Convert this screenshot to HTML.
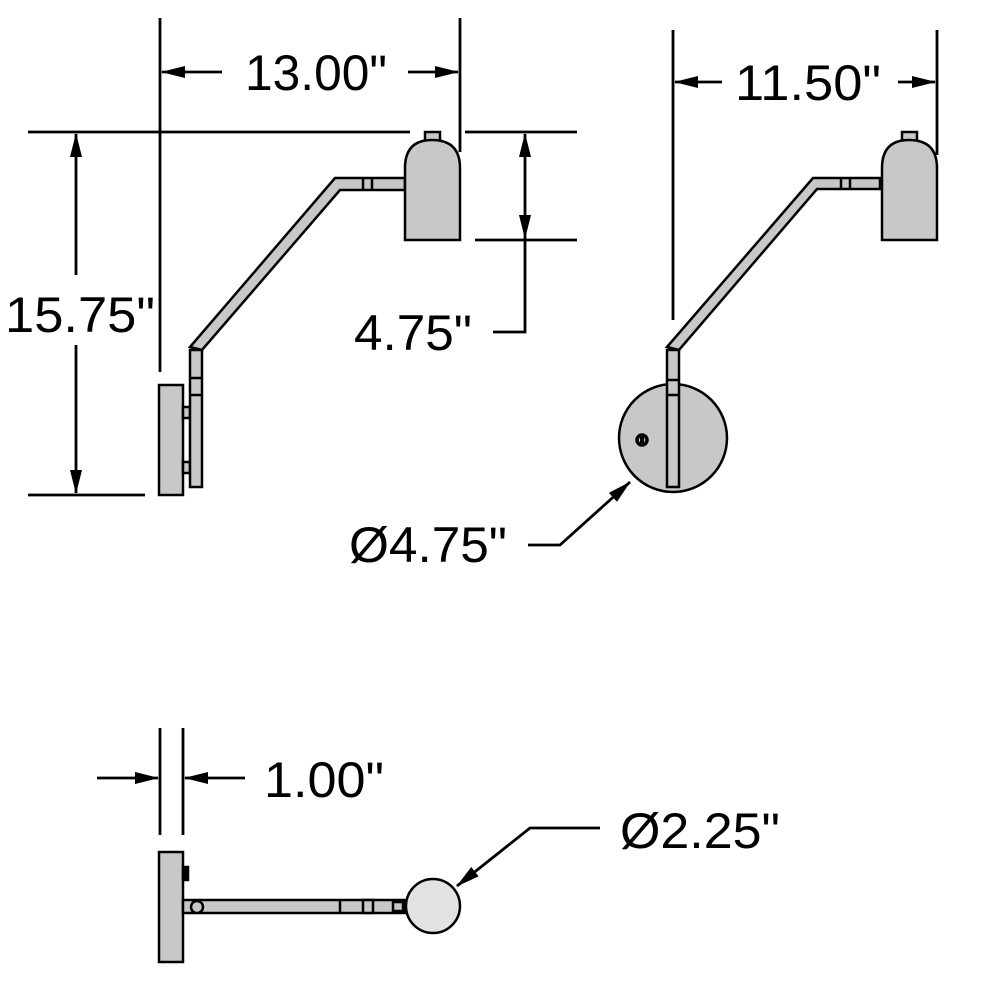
<!DOCTYPE html>
<html><head><style>html,body{margin:0;padding:0;background:#fff}svg{display:block}</style></head>
<body>
<svg width="1000" height="1000" viewBox="0 0 1000 1000" xmlns="http://www.w3.org/2000/svg" font-family="Liberation Sans, Arial, sans-serif" font-size="50">
<defs>
<marker id="a" markerWidth="24" markerHeight="14" refX="23" refY="7" orient="auto" markerUnits="userSpaceOnUse"><path d="M0,1 L24,7 L0,13 Z" fill="#000"/></marker>
</defs>
<g stroke="#000" stroke-width="2.8" fill="none">
<line x1="160" y1="18" x2="160" y2="372"/>
<line x1="460" y1="18" x2="460" y2="152"/>
<line x1="222" y1="72" x2="162" y2="72" marker-end="url(#a)"/>
<line x1="408" y1="72" x2="458" y2="72" marker-end="url(#a)"/>
<line x1="28" y1="132" x2="410" y2="132"/>
<line x1="465" y1="132" x2="577" y2="132"/>
<line x1="28" y1="495" x2="145" y2="495"/>
<line x1="76" y1="275" x2="76" y2="134" marker-end="url(#a)"/>
<line x1="76" y1="345" x2="76" y2="493" marker-end="url(#a)"/>
<line x1="475" y1="240" x2="577" y2="240"/>
<line x1="525" y1="190" x2="525" y2="134" marker-end="url(#a)"/>
<line x1="525" y1="190" x2="525" y2="238" marker-end="url(#a)"/>
<polyline points="525,238 525,332 493,332"/>
<line x1="673" y1="30" x2="673" y2="320"/>
<line x1="937" y1="30" x2="937" y2="155"/>
<line x1="722" y1="82" x2="675" y2="82" marker-end="url(#a)"/>
<line x1="898" y1="82" x2="935" y2="82" marker-end="url(#a)"/>
<polyline points="528,545 560,545 630,482" marker-end="url(#a)"/>
<line x1="160" y1="728" x2="160" y2="835"/>
<line x1="183" y1="728" x2="183" y2="835"/>
<line x1="97" y1="778" x2="158" y2="778" marker-end="url(#a)"/>
<line x1="245" y1="778" x2="185" y2="778" marker-end="url(#a)"/>
<polyline points="600,828 530,828 457,886" marker-end="url(#a)"/>
</g>

<g stroke="#000" stroke-width="2.5" fill="#c8c8c8" stroke-linejoin="miter">
<rect x="159" y="385" width="24" height="110"/>
<rect x="183" y="407" width="7" height="11"/>
<rect x="183" y="462" width="7" height="11"/>
<rect x="190" y="350" width="12" height="137"/>
<line x1="190" y1="378" x2="202" y2="378"/><line x1="190" y1="395" x2="202" y2="395"/>
<polygon points="190,347 335,178 405,178 405,190 340,190 202,350"/>
<line x1="363" y1="178" x2="363" y2="190"/><line x1="372" y1="178" x2="372" y2="190"/>
<rect x="425" y="132" width="15" height="10"/>
<path d="M405,240 L405,168 Q405,140 432,140 Q460,140 460,168 L460,240 Z"/>
<circle cx="673" cy="438" r="54"/>
<circle cx="642" cy="440" r="5" fill="none" stroke-width="3.5"/>
<rect x="640" y="437" width="4" height="6" fill="#000" stroke="none"/>
<rect x="667" y="350" width="12" height="137"/>
<line x1="667" y1="380" x2="679" y2="380"/><line x1="667" y1="395" x2="679" y2="395"/>
<polygon points="667,347 813,178 880,178 880,189 817,189 679,350"/>
<line x1="841" y1="178" x2="841" y2="189"/><line x1="850" y1="178" x2="850" y2="189"/>
<rect x="902" y="132" width="15" height="10"/>
<path d="M882,240 L882,168 Q882,140 909,140 Q937,140 937,168 L937,240 Z"/>
<rect x="159" y="852" width="24" height="110"/>
<rect x="183" y="867" width="5" height="13" fill="#000"/>
<rect x="183" y="900" width="222" height="13"/>
<circle cx="197" cy="907" r="6"/>
<line x1="340" y1="900" x2="340" y2="913"/>
<rect x="363" y="900" width="10" height="13"/>
<rect x="393" y="902" width="10" height="9"/>
<circle cx="433" cy="906" r="27" fill="#e2e2e2"/>
</g>

<g fill="#000" stroke="none">
<text x="245" y="90" textLength="142" lengthAdjust="spacingAndGlyphs">13.00"</text>
<text x="5" y="332" textLength="150" lengthAdjust="spacingAndGlyphs">15.75"</text>
<text x="354" y="350" textLength="118" lengthAdjust="spacingAndGlyphs">4.75"</text>
<text x="735" y="100" textLength="146" lengthAdjust="spacingAndGlyphs">11.50"</text>
<text x="349" y="562" textLength="158" lengthAdjust="spacingAndGlyphs">Ø4.75"</text>
<text x="264" y="797" textLength="120" lengthAdjust="spacingAndGlyphs">1.00"</text>
<text x="620" y="848" textLength="160" lengthAdjust="spacingAndGlyphs">Ø2.25"</text>
</g>
</svg>
</body></html>
